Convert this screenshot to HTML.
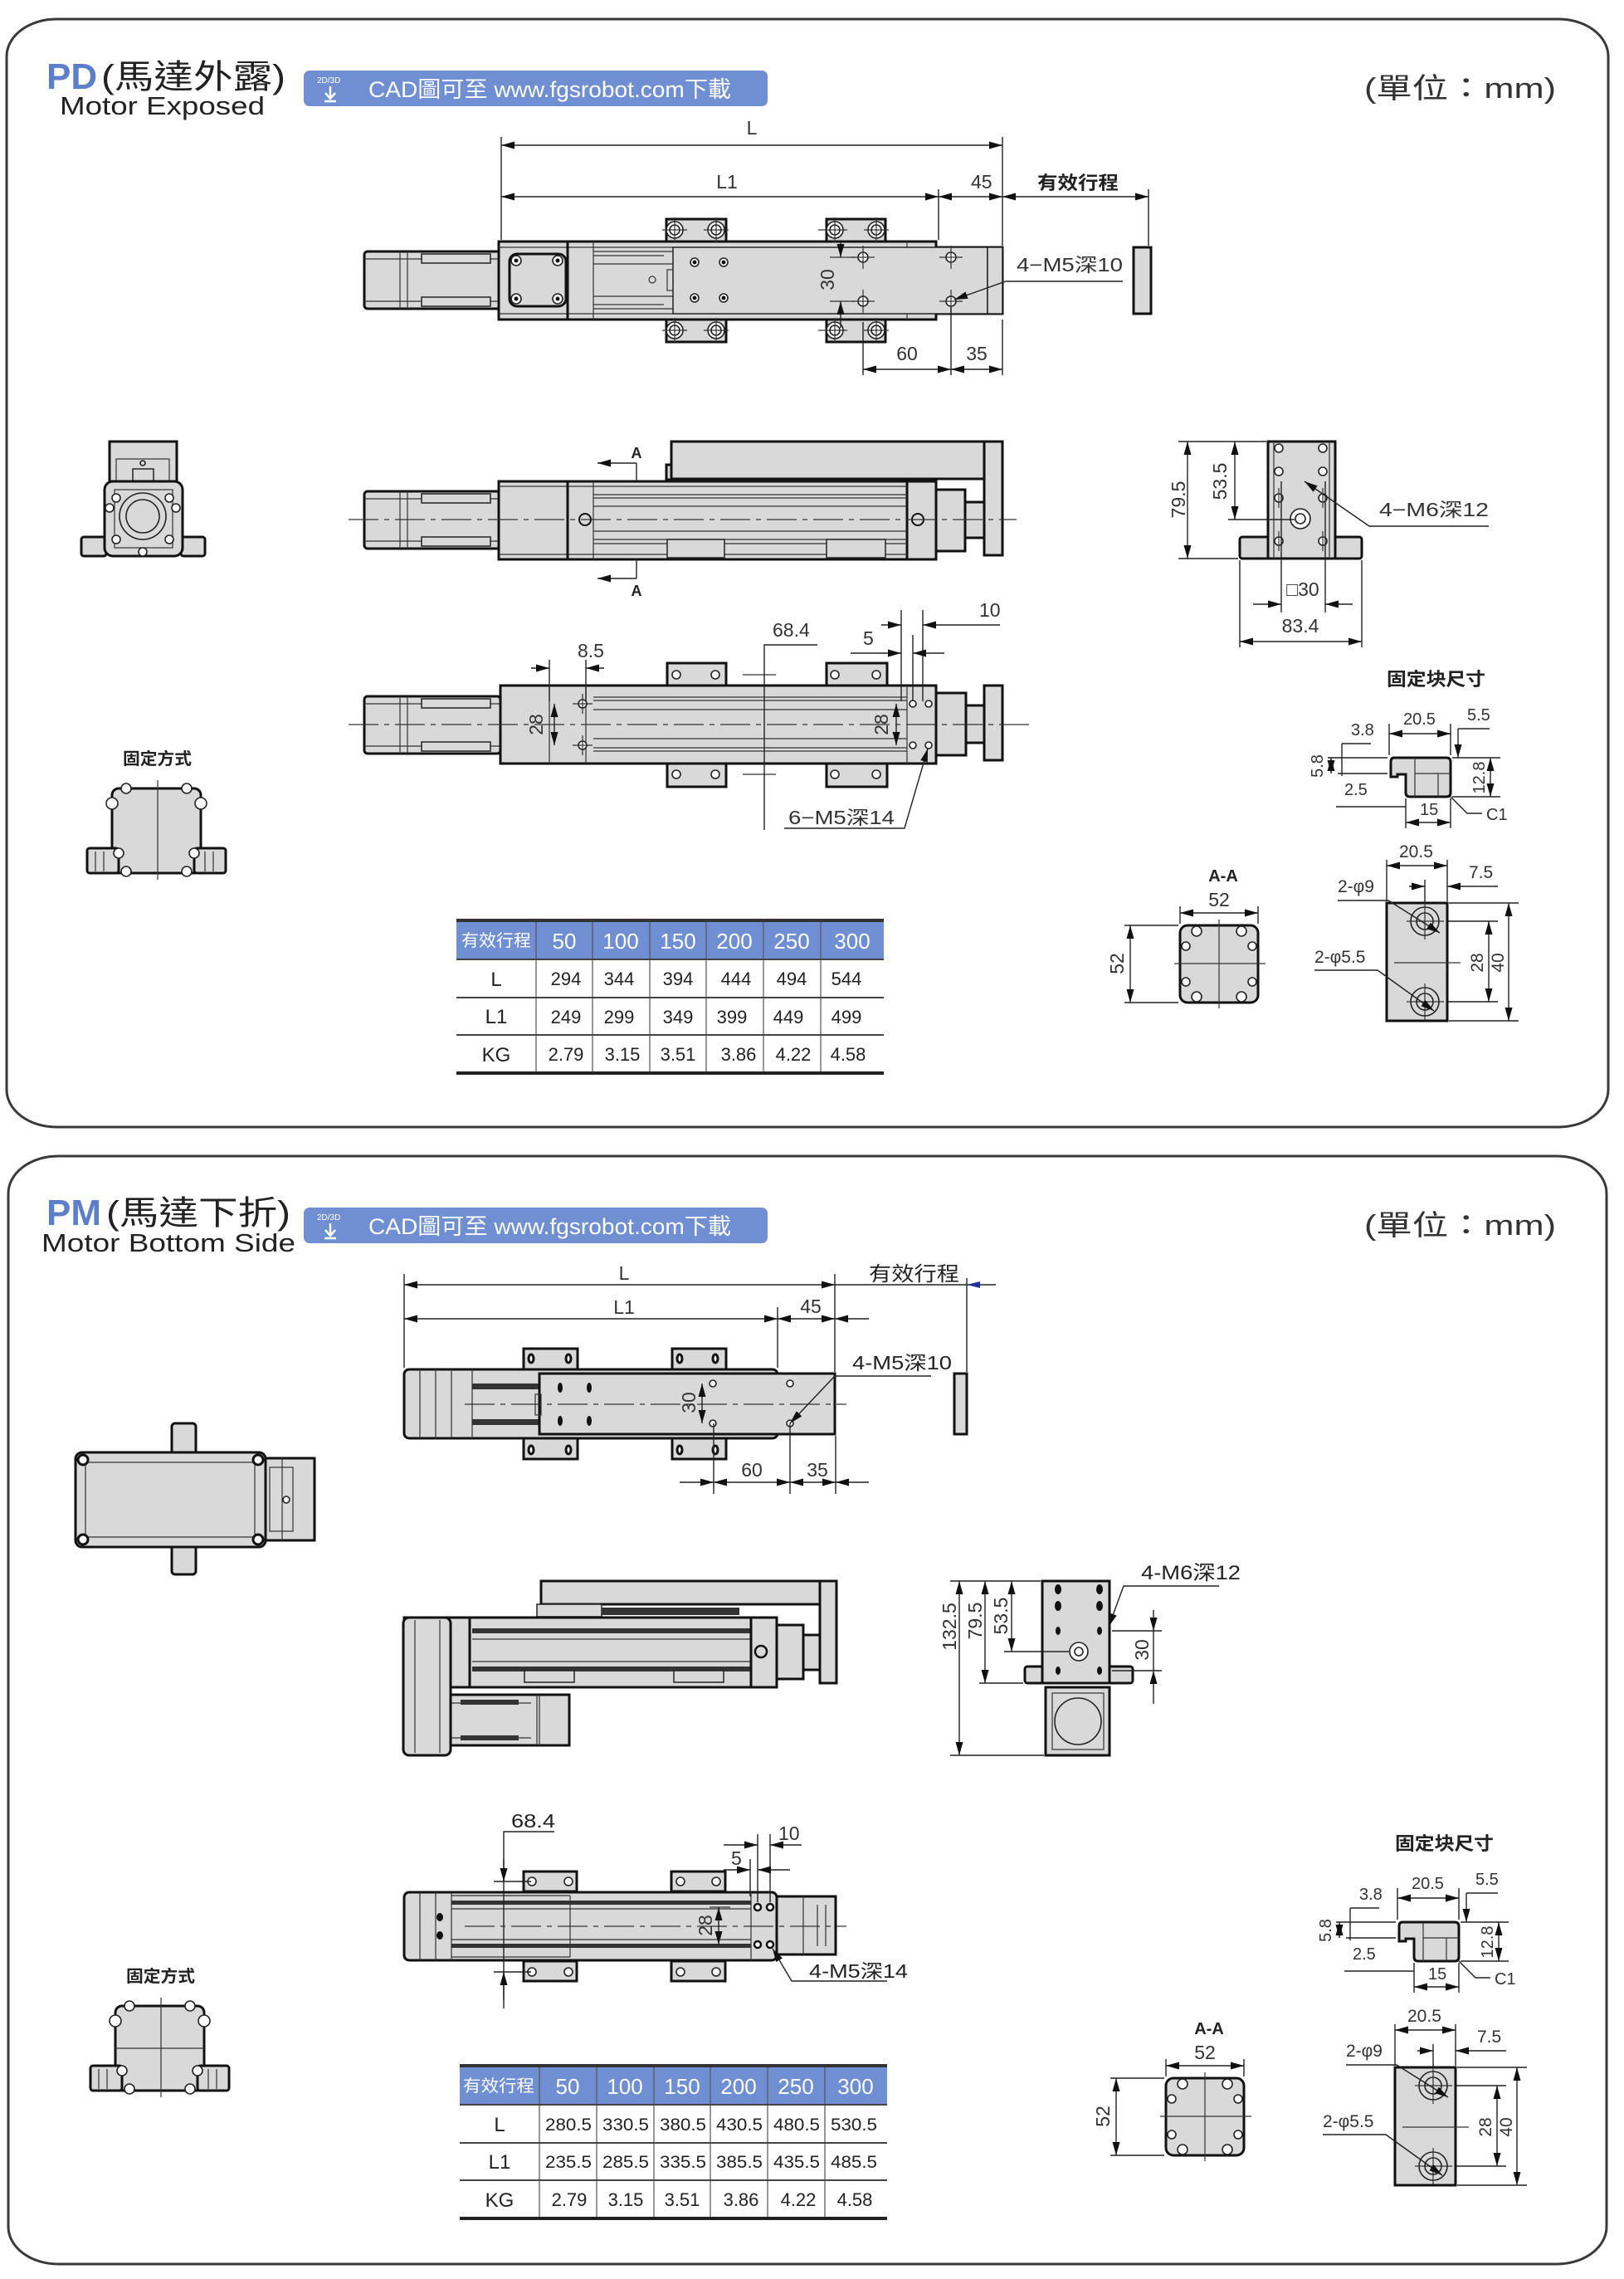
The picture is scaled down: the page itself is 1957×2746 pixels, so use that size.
<!DOCTYPE html>
<html><head><meta charset="utf-8"><style>
html,body{margin:0;padding:0;background:#fff;}
svg{display:block;}
text{font-family:"Liberation Sans","Noto Sans CJK TC",sans-serif;}
.o{fill:#d9d9d9;stroke:#111;stroke-width:3;}
.p{fill:#d9d9d9;stroke:#222;stroke-width:1.5;}
.t{fill:none;stroke:#333;stroke-width:1.2;}
.d{fill:none;stroke:#222;stroke-width:1.4;}
.c{fill:none;stroke:#333;stroke-width:1.2;stroke-dasharray:36 7 6 7;}
.n{font-size:23px;fill:#333;}
.w{fill:#fff;stroke:#222;stroke-width:1.6;}
.h{fill:none;stroke:#222;stroke-width:1.6;}
.m{marker-start:url(#a);marker-end:url(#a);}
.e{marker-end:url(#a);}
.mid{text-anchor:middle;}
</style></head><body>
<svg width="1957" height="2746" viewBox="0 0 1957 2746" xmlns="http://www.w3.org/2000/svg">
<defs>
<marker id="a" viewBox="-16 -5 17 10" refX="0" refY="0" markerWidth="17" markerHeight="10" markerUnits="userSpaceOnUse" orient="auto-start-reverse"><path d="M0,0L-16,-4.5L-16,4.5Z" fill="#111"/></marker>
</defs>
<rect width="1957" height="2746" fill="#fff"/>

<!-- FRAMES -->
<rect x="8" y="23" width="1930" height="1335" rx="60" ry="45" fill="none" stroke="#3a3a3a" stroke-width="3"/>
<rect x="10" y="1393" width="1926" height="1335" rx="60" ry="45" fill="none" stroke="#3a3a3a" stroke-width="3"/>

<!-- ===== PD HEADER ===== -->
<text x="56" y="107" font-size="44" font-weight="bold" fill="#5d7fc9">PD</text>
<text x="122" y="106" font-size="40" fill="#222" textLength="222" lengthAdjust="spacingAndGlyphs">(馬達外露)</text>
<text x="72" y="138" font-size="31" fill="#222" textLength="247" lengthAdjust="spacingAndGlyphs">Motor Exposed</text>
<rect x="366" y="85" width="559" height="43" rx="7" fill="#6f8fd2"/>
<text x="382" y="100" font-size="10" fill="#fff">2D/3D</text>
<path d="M398,104V118M392,112L398,119L404,112M391,122H405" stroke="#fff" stroke-width="2.5" fill="none"/>
<text x="444" y="117" font-size="27" fill="#fff" textLength="437" lengthAdjust="spacingAndGlyphs">CAD圖可至 www.fgsrobot.com下載</text>
<text x="1644" y="118" font-size="34" fill="#333" textLength="231" lengthAdjust="spacingAndGlyphs">(單位：mm)</text>

<!-- ===== PD TOP VIEW ===== -->
<path class="d" d="M604,165V289M1208,165V296M1131,228V289M1384,228V296"/>
<line class="d m" x1="604" y1="175" x2="1208" y2="175"/>
<line class="d m" x1="604" y1="237" x2="1131" y2="237"/>
<line class="d m" x1="1131" y1="237" x2="1208" y2="237"/>
<line class="d m" x1="1208" y1="237" x2="1384" y2="237"/>
<text class="n mid" x="906" y="162">L</text>
<text class="n mid" x="876" y="227">L1</text>
<text class="n" x="1170" y="227">45</text>
<text x="1250" y="228" font-size="22" font-weight="bold" fill="#222" textLength="98" lengthAdjust="spacingAndGlyphs">有效行程</text>

<rect class="o" x="803" y="264" width="72" height="28"/>
<rect class="o" x="996" y="264" width="71" height="28"/>
<rect class="o" x="803" y="384" width="72" height="28"/>
<rect class="o" x="996" y="384" width="71" height="28"/>
<rect class="o" x="439" y="303" width="165" height="69" rx="4"/>
<path class="t" d="M482,303V372M491,303V372M439,312H604M439,363H604"/>
<rect class="p" x="508" y="306" width="83" height="11"/><rect class="p" x="508" y="358" width="83" height="11"/>
<path class="o" d="M601,291H1128V298H1208V378H1128V385H601Z"/>
<rect class="p" x="811" y="298" width="379" height="80"/>
<rect class="p" x="1190" y="298" width="18" height="80"/>
<path class="t" d="M601,298H811M601,378H811M715,303H811M715,308H800M715,318H811M715,357H811M715,367H800M715,372H811M715,291V385M1093,291V298M1093,378V385"/>
<line x1="684" y1="291" x2="684" y2="385" stroke="#111" stroke-width="3"/>
<rect x="614" y="306" width="68" height="63" rx="9" fill="none" stroke="#111" stroke-width="3"/>
<g class="w"><circle cx="622" cy="314" r="6"/><circle cx="672" cy="314" r="6"/><circle cx="622" cy="360" r="6"/><circle cx="672" cy="360" r="6"/>
<circle cx="837" cy="316" r="5"/><circle cx="872" cy="316" r="5"/><circle cx="837" cy="359" r="5"/><circle cx="872" cy="359" r="5"/></g>
<g fill="#111"><circle cx="622" cy="314" r="2.5"/><circle cx="672" cy="314" r="2.5"/><circle cx="622" cy="360" r="2.5"/><circle cx="672" cy="360" r="2.5"/>
<circle cx="837" cy="316" r="2.5"/><circle cx="872" cy="316" r="2.5"/><circle cx="837" cy="359" r="2.5"/><circle cx="872" cy="359" r="2.5"/></g>
<rect class="t" x="804" y="325" width="7" height="25"/>
<circle class="t" cx="786" cy="337" r="4"/>
<g class="w"><circle cx="1040" cy="310" r="6"/><circle cx="1146" cy="310" r="6"/><circle cx="1040" cy="363" r="6"/><circle cx="1146" cy="363" r="6"/></g>
<path class="t" d="M1026,310H1054M1040,296V324M1132,310H1160M1146,296V324M1026,363H1054M1040,349V377M1132,363H1160M1146,349V377"/>
<g class="w"><circle cx="813" cy="277" r="10"/><circle cx="863" cy="277" r="10"/><circle cx="813" cy="398" r="10"/><circle cx="863" cy="398" r="10"/>
<circle cx="1006" cy="277" r="10"/><circle cx="1056" cy="277" r="10"/><circle cx="1006" cy="398" r="10"/><circle cx="1056" cy="398" r="10"/></g>
<g class="h"><circle cx="813" cy="277" r="6"/><circle cx="863" cy="277" r="6"/><circle cx="813" cy="398" r="6"/><circle cx="863" cy="398" r="6"/>
<circle cx="1006" cy="277" r="6"/><circle cx="1056" cy="277" r="6"/><circle cx="1006" cy="398" r="6"/><circle cx="1056" cy="398" r="6"/></g>
<path class="t" d="M798,277H828M813,262V292M848,277H878M863,262V292M798,398H828M813,383V413M848,398H878M863,383V413M986,277H1021M1006,262V292M1041,277H1071M1056,262V292M986,398H1021M1006,383V413M1041,398H1071M1056,383V413"/>
<path class="t" d="M1000,310H1030M1000,363H1030"/>
<line class="d e" x1="1013" y1="292" x2="1013" y2="310"/>
<line class="d e" x1="1013" y1="395" x2="1013" y2="363"/>
<text class="n mid" transform="translate(1005,337) rotate(-90)">30</text>
<polyline class="d e" points="1353,339 1212,339 1150,361"/>
<text class="n" x="1225" y="327" textLength="128" lengthAdjust="spacingAndGlyphs">4−M5深10</text>
<rect class="o" x="1366" y="298" width="21" height="80"/>
<path class="d" d="M1040,388V452M1146,370V452M1208,385V452"/>
<line class="d m" x1="1040" y1="445" x2="1146" y2="445"/>
<line class="d m" x1="1146" y1="445" x2="1208" y2="445"/>
<text class="n mid" x="1093" y="434">60</text>
<text class="n mid" x="1177" y="434">35</text>

<!-- ===== PD LEFT END VIEW ===== -->
<rect class="o" x="132" y="532" width="81" height="48"/>
<rect class="t" x="140" y="553" width="64" height="27"/>
<rect class="p" x="160" y="565" width="25" height="15"/>
<circle class="h" cx="172" cy="558" r="3"/>
<rect class="o" x="98" y="647" width="30" height="23" rx="3"/>
<rect class="o" x="218" y="647" width="29" height="23" rx="3"/>
<rect class="o" x="126" y="580" width="94" height="90" rx="10"/>
<circle class="h" cx="172" cy="622" r="28"/><circle class="h" cx="172" cy="622" r="20"/>
<rect class="t" x="138" y="590" width="70" height="70"/>
<g class="w"><circle cx="140" cy="600" r="5"/><circle cx="204" cy="600" r="5"/><circle cx="140" cy="650" r="5"/><circle cx="204" cy="650" r="5"/><circle cx="172" cy="665" r="5"/><circle cx="132" cy="612" r="5"/><circle cx="212" cy="612" r="5"/></g>

<!-- ===== PD SIDE VIEW ===== -->
<rect class="o" x="809" y="532" width="399" height="45"/>
<rect class="o" x="1186" y="532" width="22" height="137"/>
<rect class="o" x="803" y="560" width="6" height="18"/>
<rect class="o" x="439" y="592" width="165" height="69" rx="4"/>
<path class="t" d="M482,592V661M491,592V661M439,601H604M439,652H604"/>
<rect class="p" x="508" y="595" width="83" height="11"/><rect class="p" x="508" y="647" width="83" height="11"/>
<rect class="o" x="601" y="580" width="492" height="94"/>
<rect class="o" x="1093" y="580" width="35" height="94"/>
<rect class="o" x="1128" y="590" width="35" height="74"/>
<rect class="o" x="1163" y="605" width="23" height="43"/>
<path class="t" d="M601,586H1093M601,668H1093M715,580V674M715,596H1093M715,600H1093M715,610H1093M715,640H1093M715,650H1093M715,655H1093"/>
<line x1="684" y1="580" x2="684" y2="674" stroke="#111" stroke-width="3"/>
<rect class="p" x="804" y="650" width="69" height="22"/><rect class="p" x="996" y="650" width="71" height="22"/>
<circle cx="705" cy="626" r="7" fill="#d9d9d9" stroke="#111" stroke-width="2"/>
<circle cx="1106" cy="626" r="7" fill="#d9d9d9" stroke="#111" stroke-width="2"/>
<line class="c" x1="420" y1="626" x2="1225" y2="626"/>
<path class="d" d="M767,558V580M767,674V697"/>
<line class="d e" x1="767" y1="558" x2="720" y2="558"/>
<line class="d e" x1="767" y1="697" x2="720" y2="697"/>
<text x="767" y="552" font-size="18" font-weight="bold" fill="#222" class="mid">A</text>
<text x="767" y="718" font-size="18" font-weight="bold" fill="#222" class="mid">A</text>

<!-- ===== PD RIGHT END VIEW ===== -->
<rect class="o" x="1494" y="647" width="147" height="26" rx="3"/>
<rect class="o" x="1528" y="532" width="81" height="141"/>
<path class="t" d="M1535,532V673M1602,532V673"/>
<g class="w"><circle cx="1541" cy="540" r="5"/><circle cx="1594" cy="540" r="5"/><circle cx="1541" cy="568" r="5"/><circle cx="1594" cy="568" r="5"/>
<circle cx="1541" cy="600" r="5"/><circle cx="1594" cy="600" r="5"/><circle cx="1541" cy="652" r="5"/><circle cx="1594" cy="652" r="5"/>
<circle cx="1567" cy="625" r="12"/><circle cx="1567" cy="625" r="6"/></g>
<path class="t" d="M1541,588V612M1594,588V612M1541,640V664M1594,640V664"/>
<path class="d" d="M1420,532H1526M1420,673H1492M1480,626H1560M1494,675V780M1641,675V780M1544,580V738M1597,580V738"/>
<line class="d m" x1="1431" y1="532" x2="1431" y2="673"/>
<line class="d m" x1="1488" y1="532" x2="1488" y2="626"/>
<text class="n mid" transform="translate(1428,602) rotate(-90)">79.5</text>
<text class="n mid" transform="translate(1478,580) rotate(-90)">53.5</text>
<polyline class="d e" points="1794,634 1650,634 1572,580"/>
<text class="n" x="1662" y="622" textLength="132" lengthAdjust="spacingAndGlyphs">4−M6深12</text>
<line class="d e" x1="1510" y1="728" x2="1544" y2="728"/>
<line class="d e" x1="1630" y1="728" x2="1597" y2="728"/>
<text class="n mid" x="1570" y="718">□30</text>
<line class="d m" x1="1494" y1="773" x2="1641" y2="773"/>
<text class="n mid" x="1567" y="762">83.4</text>

<!-- ===== PD BOTTOM VIEW ===== -->
<rect class="o" x="804" y="799" width="71" height="27"/>
<rect class="o" x="996" y="799" width="73" height="27"/>
<rect class="o" x="804" y="920" width="71" height="28"/>
<rect class="o" x="996" y="920" width="73" height="28"/>
<rect class="o" x="439" y="839" width="164" height="69" rx="4"/>
<path class="t" d="M482,839V908M491,839V908M439,848H603M439,899H603"/>
<rect class="p" x="508" y="842" width="83" height="11"/><rect class="p" x="508" y="894" width="83" height="11"/>
<rect class="o" x="603" y="826" width="525" height="94"/>
<rect class="o" x="1128" y="835" width="36" height="75"/>
<rect class="o" x="1164" y="850" width="22" height="45"/>
<rect class="o" x="1186" y="826" width="22" height="90"/>
<path class="t" d="M662,826V920M706,826V920M1093,826V920M715,840H1093M715,844H1093M715,855H1093M715,890H1093M715,901H1093M715,905H1093"/>
<line class="c" x1="420" y1="873" x2="1240" y2="873"/>
<g class="w"><circle cx="702" cy="848" r="5"/><circle cx="702" cy="898" r="5"/><circle cx="1100" cy="848" r="4"/><circle cx="1119" cy="848" r="4"/><circle cx="1100" cy="898" r="4"/><circle cx="1119" cy="898" r="4"/>
<circle cx="815" cy="813" r="5"/><circle cx="862" cy="813" r="5"/><circle cx="1006" cy="813" r="5"/><circle cx="1056" cy="813" r="5"/>
<circle cx="815" cy="933" r="5"/><circle cx="862" cy="933" r="5"/><circle cx="1006" cy="933" r="5"/><circle cx="1056" cy="933" r="5"/></g>
<path class="t" d="M690,848H714M702,836V860M690,898H714M702,886V910M895,813H935M895,933H935"/>
<line class="d m" x1="668" y1="848" x2="668" y2="898"/>
<text class="n mid" transform="translate(654,873) rotate(-90)">28</text>
<line class="d m" x1="1080" y1="848" x2="1080" y2="898"/>
<text class="n mid" transform="translate(1070,873) rotate(-90)">28</text>
<path class="d" d="M662,795V845M706,795V845"/>
<line class="d e" x1="640" y1="805" x2="662" y2="805"/>
<line class="d e" x1="728" y1="805" x2="706" y2="805"/>
<text class="n mid" x="712" y="792">8.5</text>
<polyline class="d" points="985,777 921,777 921,1000"/>
<text class="n" x="931" y="767">68.4</text>
<path class="d" d="M1086,735V845M1100,765V845M1112,735V845"/>
<line class="d e" x1="1062" y1="753" x2="1086" y2="753"/>
<line class="d e" x1="1205" y1="753" x2="1112" y2="753"/>
<text class="n" x="1180" y="743">10</text>
<line class="d e" x1="1025" y1="787" x2="1086" y2="787"/>
<line class="d e" x1="1138" y1="787" x2="1100" y2="787"/>
<text class="n" x="1040" y="777">5</text>
<polyline class="d e" points="945,998 1090,998 1118,902"/>
<text class="n" x="950" y="993" textLength="128" lengthAdjust="spacingAndGlyphs">6−M5深14</text>

<!-- ===== PD 固定方式 ===== -->
<g>
<text x="148" y="921" font-size="20" font-weight="bold" fill="#222" textLength="83" lengthAdjust="spacingAndGlyphs">固定方式</text>
<rect class="o" x="135" y="950" width="107" height="102" rx="8"/>
<rect class="o" x="105" y="1022" width="38" height="30" rx="3"/>
<rect class="o" x="234" y="1022" width="38" height="30" rx="3"/>
<path class="t" d="M115,1026V1050M125,1026V1050M247,1026V1050M257,1026V1050M190,940V1060"/>
<g class="w"><circle cx="135" cy="968" r="7"/><circle cx="242" cy="968" r="7"/><circle cx="152" cy="950" r="6"/><circle cx="225" cy="950" r="6"/><circle cx="152" cy="1050" r="6"/><circle cx="225" cy="1050" r="6"/><circle cx="143" cy="1028" r="6"/><circle cx="234" cy="1028" r="6"/></g>
</g>

<!-- ===== PD TABLE ===== -->
<rect x="550" y="1109" width="515" height="47" fill="#6f8fd2"/>
<path d="M646,1109V1293M714,1109V1293M783,1109V1293M851,1109V1293M920,1109V1293M989,1109V1293" stroke="#555" stroke-width="1.2"/>
<line x1="550" y1="1109" x2="1065" y2="1109" stroke="#333" stroke-width="4"/>
<path d="M550,1156H1065M550,1202H1065M550,1247H1065" stroke="#444" stroke-width="2"/>
<line x1="550" y1="1293" x2="1065" y2="1293" stroke="#222" stroke-width="4"/>
<text x="556" y="1140" font-size="20" fill="#fff" textLength="84" lengthAdjust="spacingAndGlyphs">有效行程</text>
<g font-size="26" fill="#fff" text-anchor="middle"><text x="680" y="1143">50</text><text x="748" y="1143">100</text><text x="817" y="1143">150</text><text x="885" y="1143">200</text><text x="954" y="1143">250</text><text x="1027" y="1143">300</text></g>
<g font-size="24" fill="#222" text-anchor="middle"><text x="598" y="1188">L</text><text x="598" y="1233">L1</text><text x="598" y="1279">KG</text></g>
<g font-size="22" fill="#222" text-anchor="middle">
<text x="682" y="1187">294</text><text x="746" y="1187">344</text><text x="817" y="1187">394</text><text x="887" y="1187">444</text><text x="954" y="1187">494</text><text x="1020" y="1187">544</text>
<text x="682" y="1233">249</text><text x="746" y="1233">299</text><text x="817" y="1233">349</text><text x="882" y="1233">399</text><text x="950" y="1233">449</text><text x="1020" y="1233">499</text>
<text x="682" y="1278">2.79</text><text x="750" y="1278">3.15</text><text x="817" y="1278">3.51</text><text x="890" y="1278">3.86</text><text x="956" y="1278">4.22</text><text x="1022" y="1278">4.58</text>
</g>

<!-- ===== 固定块尺寸 (top) ===== -->
<g>
<text x="1671" y="826" font-size="22" font-weight="bold" fill="#222" textLength="119" lengthAdjust="spacingAndGlyphs">固定块尺寸</text>
<path class="d" d="M1600,913H1672M1750,913H1808M1612,932H1672M1750,960H1808M1674,872V910M1748,872V910M1694,962V998M1748,962V998M1757,878H1795M1617,896H1652M1617,896V935M1610,972H1694"/>
<line class="d m" x1="1674" y1="884" x2="1748" y2="884"/>
<line class="d e" x1="1757" y1="878" x2="1757" y2="913"/>
<line class="d m" x1="1796" y1="913" x2="1796" y2="960"/>
<line class="d m" x1="1604" y1="913" x2="1604" y2="932"/>
<line class="d m" x1="1694" y1="991" x2="1748" y2="991"/>
<path class="o" d="M1680,913H1743Q1748,913 1748,918V955Q1748,960 1743,960H1699Q1694,960 1694,955V933H1684V936H1676V918Q1676,913 1680,913Z"/>
<path class="t" d="M1705,913V960M1733,932V960M1705,932H1748"/>
<polyline class="d" points="1748,960 1768,980 1786,980"/>
<g font-size="20" fill="#333">
<text x="1628" y="886">3.8</text><text x="1691" y="873">20.5</text><text x="1768" y="868">5.5</text>
<text class="mid" transform="translate(1594,923) rotate(-90)">5.8</text>
<text x="1620" y="958">2.5</text>
<text class="mid" transform="translate(1789,937) rotate(-90)">12.8</text>
<text x="1711" y="982">15</text><text x="1791" y="988">C1</text>
</g>
<path class="d" d="M1671,1036V1086M1744,1036V1086M1717,1060V1095M1746,1088H1830M1746,1230H1830M1740,1110H1805M1740,1207H1805"/>
<line class="d m" x1="1671" y1="1043" x2="1744" y2="1043"/>
<line class="d e" x1="1698" y1="1068" x2="1717" y2="1068"/>
<line class="d e" x1="1805" y1="1068" x2="1744" y2="1068"/>
<line class="d m" x1="1794" y1="1110" x2="1794" y2="1207"/>
<line class="d m" x1="1818" y1="1088" x2="1818" y2="1230"/>
<rect class="o" x="1671" y="1088" width="73" height="142"/>
<g class="h"><circle cx="1717" cy="1110" r="17"/><circle cx="1717" cy="1110" r="10"/><circle cx="1717" cy="1207" r="17"/><circle cx="1717" cy="1207" r="10"/></g>
<path class="t" d="M1695,1110H1740M1717,1088V1132M1695,1207H1740M1717,1185V1229M1680,1160H1760"/>
<polyline class="d e" points="1612,1085 1673,1085 1735,1124"/>
<polyline class="d e" points="1584,1169 1660,1169 1728,1218"/>
<g font-size="21" fill="#333">
<text x="1686" y="1033">20.5</text><text x="1770" y="1058">7.5</text>
<text x="1612" y="1075">2-φ9</text><text x="1584" y="1160">2-φ5.5</text>
<text class="mid" transform="translate(1787,1160) rotate(-90)">28</text>
<text class="mid" transform="translate(1812,1160) rotate(-90)">40</text>
</g>
</g>

<!-- ===== A-A (top) ===== -->
<g>
<text x="1474" y="1062" font-size="20" font-weight="bold" fill="#222" class="mid" font-family="Liberation Serif, serif">A-A</text>
<text class="n mid" x="1469" y="1092">52</text>
<path class="d" d="M1422,1092V1113M1516,1092V1113M1355,1115H1420M1355,1208H1420"/>
<line class="d m" x1="1422" y1="1100" x2="1516" y2="1100"/>
<line class="d m" x1="1362" y1="1115" x2="1362" y2="1208"/>
<text class="n mid" transform="translate(1354,1161) rotate(-90)">52</text>
<rect class="o" x="1422" y="1115" width="94" height="93" rx="9"/>
<path class="t" d="M1469,1108V1215M1415,1161H1525"/>
<g class="w"><circle cx="1442" cy="1122" r="6"/><circle cx="1496" cy="1122" r="6"/><circle cx="1442" cy="1201" r="6"/><circle cx="1496" cy="1201" r="6"/>
<circle cx="1429" cy="1140" r="5"/><circle cx="1509" cy="1140" r="5"/><circle cx="1429" cy="1183" r="5"/><circle cx="1509" cy="1183" r="5"/></g>
</g>

<!-- ===== PM HEADER ===== -->
<text x="56" y="1476" font-size="44" font-weight="bold" fill="#5d7fc9">PM</text>
<text x="128" y="1475" font-size="40" fill="#222" textLength="222" lengthAdjust="spacingAndGlyphs">(馬達下折)</text>
<text x="50" y="1508" font-size="31" fill="#222" textLength="306" lengthAdjust="spacingAndGlyphs">Motor Bottom Side</text>
<rect x="366" y="1455" width="559" height="43" rx="7" fill="#6f8fd2"/>
<text x="382" y="1470" font-size="10" fill="#fff">2D/3D</text>
<path d="M398,1474V1488M392,1482L398,1489L404,1482M391,1492H405" stroke="#fff" stroke-width="2.5" fill="none"/>
<text x="444" y="1487" font-size="27" fill="#fff" textLength="437" lengthAdjust="spacingAndGlyphs">CAD圖可至 www.fgsrobot.com下載</text>
<text x="1644" y="1488" font-size="34" fill="#333" textLength="231" lengthAdjust="spacingAndGlyphs">(單位：mm)</text>

<!-- ===== PM TOP VIEW ===== -->
<path class="d" d="M487,1535V1648M937,1575V1648M1006,1535V1653M1165,1540V1653"/>
<line class="d m" x1="487" y1="1548" x2="1006" y2="1548"/>
<line class="d" x1="1006" y1="1548" x2="1200" y2="1548"/>
<path d="M1165,1548L1181,1544L1181,1552Z" fill="#223399"/>
<line class="d m" x1="487" y1="1589" x2="937" y2="1589"/>
<line class="d m" x1="937" y1="1589" x2="1006" y2="1589"/>
<line class="d e" x1="1047" y1="1589" x2="1006" y2="1589"/>
<text class="n mid" x="752" y="1542">L</text>
<text class="n mid" x="752" y="1583">L1</text>
<text class="n mid" x="977" y="1582">45</text>
<text x="1047" y="1543" font-size="24" fill="#222" textLength="109" lengthAdjust="spacingAndGlyphs">有效行程</text>
<rect class="o" x="631" y="1625" width="65" height="25"/>
<rect class="o" x="810" y="1625" width="65" height="25"/>
<rect class="o" x="631" y="1733" width="65" height="25"/>
<rect class="o" x="810" y="1733" width="65" height="25"/>
<g fill="#fff" stroke="#111" stroke-width="3"><ellipse cx="640" cy="1637" rx="3" ry="5"/><ellipse cx="685" cy="1637" rx="3" ry="5"/><ellipse cx="819" cy="1637" rx="3" ry="5"/><ellipse cx="862" cy="1637" rx="3" ry="5"/>
<ellipse cx="640" cy="1747" rx="3" ry="5"/><ellipse cx="685" cy="1747" rx="3" ry="5"/><ellipse cx="819" cy="1747" rx="3" ry="5"/><ellipse cx="862" cy="1747" rx="3" ry="5"/></g>
<rect class="o" x="487" y="1650" width="450" height="83" rx="6"/>
<path class="t" d="M506,1650V1733M525,1650V1733M544,1650V1733M569,1650V1733"/>
<rect x="569" y="1667" width="81" height="7" fill="#333"/><rect x="569" y="1710" width="81" height="7" fill="#333"/>
<rect class="o" x="650" y="1655" width="356" height="73"/>
<rect class="t" x="645" y="1680" width="7" height="25"/>
<g fill="#111"><ellipse cx="675" cy="1672" rx="3" ry="6"/><ellipse cx="710" cy="1672" rx="3" ry="6"/><ellipse cx="675" cy="1712" rx="3" ry="6"/><ellipse cx="710" cy="1712" rx="3" ry="6"/></g>
<g class="w"><circle cx="859" cy="1667" r="4"/><circle cx="952" cy="1667" r="4"/><circle cx="859" cy="1715" r="4"/><circle cx="952" cy="1715" r="4"/></g>
<line class="c" x1="560" y1="1692" x2="1020" y2="1692"/>
<line class="d m" x1="846" y1="1667" x2="846" y2="1715"/>
<text class="n mid" transform="translate(838,1690) rotate(-90)">30</text>
<polyline class="d e" points="1122,1658 1006,1658 952,1715"/>
<text x="1027" y="1650" font-size="23" fill="#222" textLength="120" lengthAdjust="spacingAndGlyphs">4-M5深10</text>
<rect class="o" x="1150" y="1655" width="15" height="73"/>
<path class="d" d="M860,1715V1800M952,1715V1800M1007,1730V1800"/>
<line class="d e" x1="819" y1="1786" x2="860" y2="1786"/>
<line class="d m" x1="860" y1="1786" x2="952" y2="1786"/>
<line class="d m" x1="952" y1="1786" x2="1007" y2="1786"/>
<line class="d e" x1="1047" y1="1786" x2="1007" y2="1786"/>
<text class="n mid" x="906" y="1779">60</text>
<text class="n mid" x="985" y="1779">35</text>

<!-- ===== PM LEFT MOTOR VIEW ===== -->
<rect class="o" x="207" y="1715" width="29" height="40" rx="4"/>
<rect class="o" x="207" y="1858" width="29" height="39" rx="4"/>
<rect class="o" x="320" y="1757" width="59" height="99"/>
<path class="t" d="M340,1757V1856"/>
<rect class="t" x="325" y="1768" width="28" height="77"/>
<rect class="o" x="91" y="1750" width="229" height="114" rx="8"/>
<path class="t" d="M103,1762H307M103,1852H307M103,1762V1852M307,1762V1852"/>
<g fill="#fff" stroke="#111" stroke-width="3"><circle cx="100" cy="1759" r="6"/><circle cx="311" cy="1759" r="6"/><circle cx="100" cy="1855" r="6"/><circle cx="311" cy="1855" r="6"/></g>
<circle class="w" cx="345" cy="1807" r="4"/>

<!-- ===== PM SIDE VIEW ===== -->
<rect class="o" x="652" y="1905" width="336" height="28"/>
<rect class="o" x="988" y="1905" width="20" height="123"/>
<rect class="p" x="647" y="1933" width="78" height="15"/>
<rect x="725" y="1937" width="166" height="9" fill="#333"/>
<rect class="o" x="487" y="1949" width="449" height="84"/>
<line x1="566" y1="1949" x2="566" y2="2033" stroke="#111" stroke-width="3"/>
<rect x="569" y="1962" width="336" height="6" fill="#333"/><rect x="569" y="2008" width="336" height="6" fill="#333"/>
<path class="t" d="M569,1975H905M569,2002H905"/>
<rect class="p" x="632" y="2013" width="60" height="14"/><rect class="p" x="812" y="2013" width="60" height="14"/>
<rect class="o" x="905" y="1949" width="31" height="84"/>
<rect class="o" x="936" y="1958" width="32" height="65"/>
<rect class="o" x="968" y="1970" width="20" height="42"/>
<circle cx="917" cy="1990" r="7" fill="#d9d9d9" stroke="#111" stroke-width="2.5"/>
<rect class="o" x="543" y="2042" width="143" height="61"/>
<path class="t" d="M647,2042V2103M650,2042V2103M543,2052H640M543,2094H640"/>
<rect x="555" y="2048" width="70" height="6" fill="#333"/><rect x="555" y="2091" width="70" height="6" fill="#333"/>
<rect class="o" x="486" y="1949" width="57" height="166" rx="7"/>
<path class="t" d="M500,1952V2112M530,1952V2112"/>

<!-- ===== PM END VIEW ===== -->
<rect class="o" x="1235" y="2008" width="130" height="20" rx="3"/>
<rect class="o" x="1256" y="1905" width="81" height="123"/>
<g fill="#111"><ellipse cx="1275" cy="1915" rx="4" ry="6"/><ellipse cx="1325" cy="1915" rx="4" ry="6"/><ellipse cx="1275" cy="1935" rx="4" ry="6"/><ellipse cx="1325" cy="1935" rx="4" ry="6"/>
<ellipse cx="1275" cy="1965" rx="3" ry="5"/><ellipse cx="1325" cy="1965" rx="3" ry="5"/><ellipse cx="1275" cy="2013" rx="3" ry="5"/><ellipse cx="1325" cy="2013" rx="3" ry="5"/></g>
<circle class="w" cx="1300" cy="1990" r="11"/><circle class="h" cx="1300" cy="1990" r="5"/>
<rect class="o" x="1260" y="2033" width="77" height="82"/>
<rect class="t" x="1268" y="2040" width="62" height="68"/>
<circle class="h" cx="1299" cy="2074" r="28"/>
<path class="d" d="M1145,1905H1254M1145,2115H1258M1180,2028H1233M1210,1990H1288M1340,1965H1400M1340,2013H1400"/>
<line class="d m" x1="1156" y1="1905" x2="1156" y2="2115"/>
<line class="d m" x1="1187" y1="1905" x2="1187" y2="2028"/>
<line class="d m" x1="1219" y1="1905" x2="1219" y2="1990"/>
<text class="n mid" transform="translate(1152,1960) rotate(-90)">132.5</text>
<text class="n mid" transform="translate(1183,1953) rotate(-90)">79.5</text>
<text class="n mid" transform="translate(1214,1947) rotate(-90)">53.5</text>
<line class="d e" x1="1390" y1="1940" x2="1390" y2="1965"/>
<line class="d e" x1="1390" y1="2053" x2="1390" y2="2013"/>
<line class="d" x1="1390" y1="1965" x2="1390" y2="2013"/>
<text class="n mid" transform="translate(1384,1988) rotate(-90)">30</text>
<polyline class="d e" points="1469,1911 1354,1911 1336,1960"/>
<text x="1375" y="1903" font-size="24" fill="#222" textLength="120" lengthAdjust="spacingAndGlyphs">4-M6深12</text>

<!-- ===== PM BOTTOM VIEW ===== -->
<rect class="o" x="631" y="2255" width="64" height="24"/>
<rect class="o" x="809" y="2255" width="65" height="24"/>
<rect class="o" x="631" y="2363" width="64" height="24"/>
<rect class="o" x="809" y="2363" width="65" height="24"/>
<g class="w"><circle cx="641" cy="2267" r="5"/><circle cx="685" cy="2267" r="5"/><circle cx="820" cy="2267" r="5"/><circle cx="863" cy="2267" r="5"/>
<circle cx="641" cy="2376" r="5"/><circle cx="685" cy="2376" r="5"/><circle cx="820" cy="2376" r="5"/><circle cx="863" cy="2376" r="5"/></g>
<rect class="o" x="487" y="2280" width="449" height="82" rx="6"/>
<path class="t" d="M506,2280V2362M525,2280V2362M544,2280V2362M687,2284V2358M544,2284H687M544,2358H687M905,2280V2362"/>
<rect x="544" y="2290" width="361" height="5" fill="#333"/><rect x="544" y="2342" width="361" height="5" fill="#333"/>
<path class="t" d="M544,2300H905M544,2337H905"/>
<rect class="o" x="936" y="2285" width="71" height="70"/>
<path class="t" d="M968,2285V2355M985,2295V2345M995,2295V2345"/>
<g fill="#fff" stroke="#111" stroke-width="2.5"><circle cx="913" cy="2298" r="4"/><circle cx="928" cy="2298" r="4"/><circle cx="913" cy="2343" r="4"/><circle cx="928" cy="2343" r="4"/></g>
<g fill="#111"><ellipse cx="530" cy="2310" rx="4" ry="5"/><ellipse cx="530" cy="2332" rx="4" ry="5"/></g>
<line class="c" x1="560" y1="2321" x2="1020" y2="2321"/>
<path class="t" d="M855,2298H880M855,2343H880"/>
<line class="d m" x1="866" y1="2298" x2="866" y2="2343"/>
<text class="n mid" transform="translate(858,2320) rotate(-90)">28</text>
<path class="d" d="M595,2267H640M595,2376H640"/>
<polyline class="d" points="668,2207 607,2207 607,2420"/>
<line class="d e" x1="607" y1="2240" x2="607" y2="2267"/>
<line class="d e" x1="607" y1="2410" x2="607" y2="2376"/>
<text x="616" y="2202" font-size="23" fill="#222" textLength="53" lengthAdjust="spacingAndGlyphs">68.4</text>
<path class="d" d="M904,2240V2285M913,2210V2292M928,2210V2292"/>
<line class="d e" x1="872" y1="2223" x2="913" y2="2223"/>
<line class="d e" x1="966" y1="2223" x2="928" y2="2223"/>
<line class="d e" x1="872" y1="2253" x2="904" y2="2253"/>
<line class="d e" x1="952" y1="2253" x2="913" y2="2253"/>
<text class="n" x="938" y="2217">10</text>
<text class="n" x="881" y="2247">5</text>
<polyline class="d e" points="1069,2387 954,2387 931,2348"/>
<text x="975" y="2383" font-size="23" fill="#222" textLength="119" lengthAdjust="spacingAndGlyphs">4-M5深14</text>

<!-- ===== PM 固定方式 ===== -->
<g transform="translate(4,1467)">
<text x="148" y="921" font-size="20" font-weight="bold" fill="#222" textLength="83" lengthAdjust="spacingAndGlyphs">固定方式</text>
<rect class="o" x="135" y="950" width="107" height="102" rx="8"/>
<rect class="o" x="105" y="1022" width="38" height="30" rx="3"/>
<rect class="o" x="234" y="1022" width="38" height="30" rx="3"/>
<path class="t" d="M115,1026V1050M125,1026V1050M247,1026V1050M257,1026V1050M190,940V1060M135,1001H242"/>
<g class="w"><circle cx="135" cy="968" r="7"/><circle cx="242" cy="968" r="7"/><circle cx="152" cy="950" r="6"/><circle cx="225" cy="950" r="6"/><circle cx="152" cy="1050" r="6"/><circle cx="225" cy="1050" r="6"/><circle cx="143" cy="1028" r="6"/><circle cx="234" cy="1028" r="6"/></g>
</g>

<!-- ===== PM TABLE ===== -->
<rect x="554" y="2489" width="515" height="47" fill="#6f8fd2"/>
<path d="M650,2489V2673M719,2489V2673M788,2489V2673M856,2489V2673M925,2489V2673M994,2489V2673" stroke="#555" stroke-width="1.2"/>
<line x1="554" y1="2489" x2="1069" y2="2489" stroke="#333" stroke-width="4"/>
<path d="M554,2536H1069M554,2582H1069M554,2627H1069" stroke="#444" stroke-width="2"/>
<line x1="554" y1="2673" x2="1069" y2="2673" stroke="#222" stroke-width="4"/>
<text x="558" y="2520" font-size="20" fill="#fff" textLength="86" lengthAdjust="spacingAndGlyphs">有效行程</text>
<g font-size="26" fill="#fff" text-anchor="middle"><text x="684" y="2523">50</text><text x="753" y="2523">100</text><text x="822" y="2523">150</text><text x="890" y="2523">200</text><text x="959" y="2523">250</text><text x="1031" y="2523">300</text></g>
<g font-size="24" fill="#222" text-anchor="middle"><text x="602" y="2568">L</text><text x="602" y="2613">L1</text><text x="602" y="2659">KG</text></g>
<g font-size="21" fill="#222">
<text x="657" y="2567" textLength="56" lengthAdjust="spacingAndGlyphs">280.5</text><text x="726" y="2567" textLength="56" lengthAdjust="spacingAndGlyphs">330.5</text><text x="795" y="2567" textLength="56" lengthAdjust="spacingAndGlyphs">380.5</text><text x="863" y="2567" textLength="56" lengthAdjust="spacingAndGlyphs">430.5</text><text x="932" y="2567" textLength="56" lengthAdjust="spacingAndGlyphs">480.5</text><text x="1001" y="2567" textLength="56" lengthAdjust="spacingAndGlyphs">530.5</text>
<text x="657" y="2612" textLength="56" lengthAdjust="spacingAndGlyphs">235.5</text><text x="726" y="2612" textLength="56" lengthAdjust="spacingAndGlyphs">285.5</text><text x="795" y="2612" textLength="56" lengthAdjust="spacingAndGlyphs">335.5</text><text x="863" y="2612" textLength="56" lengthAdjust="spacingAndGlyphs">385.5</text><text x="932" y="2612" textLength="56" lengthAdjust="spacingAndGlyphs">435.5</text><text x="1001" y="2612" textLength="56" lengthAdjust="spacingAndGlyphs">485.5</text>
</g>
<g font-size="22" fill="#222" text-anchor="middle">
<text x="686" y="2658">2.79</text><text x="754" y="2658">3.15</text><text x="822" y="2658">3.51</text><text x="893" y="2658">3.86</text><text x="962" y="2658">4.22</text><text x="1030" y="2658">4.58</text>
</g>

<!-- ===== PM 固定块尺寸 + plate ===== -->
<g transform="translate(10,1403)">
<text x="1671" y="826" font-size="22" font-weight="bold" fill="#222" textLength="119" lengthAdjust="spacingAndGlyphs">固定块尺寸</text>
<path class="d" d="M1600,913H1672M1750,913H1808M1612,932H1672M1750,960H1808M1674,872V910M1748,872V910M1694,962V998M1748,962V998M1757,878H1795M1617,896H1652M1617,896V935M1610,972H1694"/>
<line class="d m" x1="1674" y1="884" x2="1748" y2="884"/>
<line class="d e" x1="1757" y1="878" x2="1757" y2="913"/>
<line class="d m" x1="1796" y1="913" x2="1796" y2="960"/>
<line class="d m" x1="1604" y1="913" x2="1604" y2="932"/>
<line class="d m" x1="1694" y1="991" x2="1748" y2="991"/>
<path class="o" d="M1680,913H1743Q1748,913 1748,918V955Q1748,960 1743,960H1699Q1694,960 1694,955V933H1684V936H1676V918Q1676,913 1680,913Z"/>
<path class="t" d="M1705,913V960M1733,932V960M1705,932H1748"/>
<polyline class="d" points="1748,960 1768,980 1786,980"/>
<g font-size="20" fill="#333">
<text x="1628" y="886">3.8</text><text x="1691" y="873">20.5</text><text x="1768" y="868">5.5</text>
<text class="mid" transform="translate(1594,923) rotate(-90)">5.8</text>
<text x="1620" y="958">2.5</text>
<text class="mid" transform="translate(1789,937) rotate(-90)">12.8</text>
<text x="1711" y="982">15</text><text x="1791" y="988">C1</text>
</g>
<path class="d" d="M1671,1036V1086M1744,1036V1086M1717,1060V1095M1746,1088H1830M1746,1230H1830M1740,1110H1805M1740,1207H1805"/>
<line class="d m" x1="1671" y1="1043" x2="1744" y2="1043"/>
<line class="d e" x1="1698" y1="1068" x2="1717" y2="1068"/>
<line class="d e" x1="1805" y1="1068" x2="1744" y2="1068"/>
<line class="d m" x1="1794" y1="1110" x2="1794" y2="1207"/>
<line class="d m" x1="1818" y1="1088" x2="1818" y2="1230"/>
<rect class="o" x="1671" y="1088" width="73" height="142"/>
<g class="h"><circle cx="1717" cy="1110" r="17"/><circle cx="1717" cy="1110" r="10"/><circle cx="1717" cy="1207" r="17"/><circle cx="1717" cy="1207" r="10"/></g>
<path class="t" d="M1695,1110H1740M1717,1088V1132M1695,1207H1740M1717,1185V1229M1680,1160H1760"/>
<polyline class="d e" points="1612,1085 1673,1085 1735,1124"/>
<polyline class="d e" points="1584,1169 1660,1169 1728,1218"/>
<g font-size="21" fill="#333">
<text x="1686" y="1033">20.5</text><text x="1770" y="1058">7.5</text>
<text x="1612" y="1075">2-φ9</text><text x="1584" y="1160">2-φ5.5</text>
<text class="mid" transform="translate(1787,1160) rotate(-90)">28</text>
<text class="mid" transform="translate(1812,1160) rotate(-90)">40</text>
</g>
</g>

<!-- ===== PM A-A ===== -->
<g transform="translate(-17,1389)">
<text x="1474" y="1062" font-size="20" font-weight="bold" fill="#222" class="mid" font-family="Liberation Serif, serif">A-A</text>
<text class="n mid" x="1469" y="1092">52</text>
<path class="d" d="M1422,1092V1113M1516,1092V1113M1355,1115H1420M1355,1208H1420"/>
<line class="d m" x1="1422" y1="1100" x2="1516" y2="1100"/>
<line class="d m" x1="1362" y1="1115" x2="1362" y2="1208"/>
<text class="n mid" transform="translate(1354,1161) rotate(-90)">52</text>
<rect class="o" x="1422" y="1115" width="94" height="93" rx="9"/>
<path class="t" d="M1469,1108V1215M1415,1161H1525"/>
<g class="w"><circle cx="1442" cy="1122" r="6"/><circle cx="1496" cy="1122" r="6"/><circle cx="1442" cy="1201" r="6"/><circle cx="1496" cy="1201" r="6"/>
<circle cx="1429" cy="1140" r="5"/><circle cx="1509" cy="1140" r="5"/><circle cx="1429" cy="1183" r="5"/><circle cx="1509" cy="1183" r="5"/></g>
</g>

</svg>
</body></html>
